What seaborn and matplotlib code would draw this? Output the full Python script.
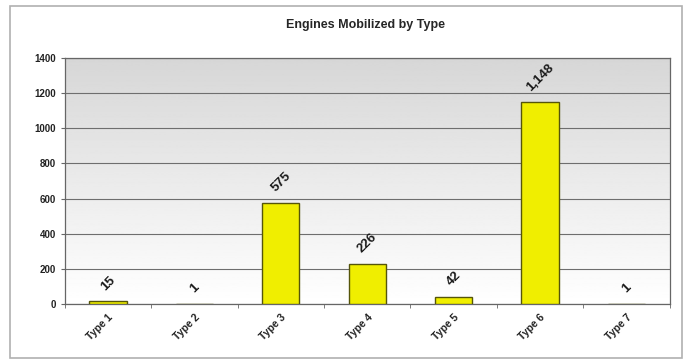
import numpy as np
import pandas as pd
import matplotlib
matplotlib.use("Agg")
import matplotlib.pyplot as plt
import seaborn as sns
from matplotlib.patches import Rectangle

types = ['Type 1', 'Type 2', 'Type 3', 'Type 4', 'Type 5', 'Type 6', 'Type 7']
engines = [15, 1, 575, 226, 42, 1148, 1]
value_labels = ['15', '1', '575', '226', '42', '1,148', '1']

df = pd.DataFrame({'type': types, 'engines': engines})

sns.set_style('white')
plt.rcParams['font.family'] = ['Liberation Sans', 'DejaVu Sans']

fig = plt.figure(figsize=(6.89, 3.62), dpi=100)
ax = fig.add_axes([0.094, 0.160, 0.878, 0.680])

# outer chart frame
fig.patches.append(Rectangle((0.014, 0.012), 0.976, 0.972, transform=fig.transFigure,
                             fill=False, edgecolor='#b0b0b0', linewidth=1.2))

# gray gradient plot background (dark top -> white bottom)
grad = np.linspace(0.84, 1.0, 256).reshape(-1, 1)
ax.imshow(grad, cmap='gray', vmin=0, vmax=1, aspect='auto',
          extent=[-0.5, 6.5, 0, 1400], zorder=0)

sns.barplot(data=df, x='type', y='engines', color='#f0ee00', width=0.43,
            edgecolor='#55550a', linewidth=1.0, saturation=1, ax=ax, zorder=3)

ax.set_xlim(-0.5, 6.5)
ax.set_ylim(0, 1400)
ax.set_yticks(range(0, 1401, 200))
ax.yaxis.grid(True, color='#6e6e6e', linewidth=0.8, zorder=1)
ax.set_axisbelow(True)
for s in ax.spines.values():
    s.set_color('#666666')
    s.set_linewidth(0.9)

# category ticks sit between bars, labels at bar centres
ax.set_xticks(np.arange(-0.5, 7, 1), minor=True)
ax.set_xlabel('')
ax.set_ylabel('')
ax.tick_params(axis='y', labelsize=7, length=3, color='#666666', left=True, labelcolor='#222222')
ax.tick_params(axis='x', which='major', labelsize=7.5, length=0, pad=6, labelcolor='#222222')
ax.tick_params(axis='x', which='minor', length=3, color='#666666', bottom=True)
for lab in ax.get_yticklabels():
    lab.set_fontweight('bold')
plt.setp(ax.get_xticklabels(), rotation=45, ha='right', rotation_mode='anchor', fontweight='bold')

for i, (v, txt) in enumerate(zip(engines, value_labels)):
    ax.text(i, v + 50, txt, rotation=45, ha='center', va='bottom',
            fontsize=9.5, fontweight='bold', color='#1a1a1a', zorder=4, clip_on=False)

fig.text(0.53, 0.93, 'Engines Mobilized by Type', ha='center', va='center',
         fontsize=9, fontweight='bold')

fig.savefig('out.png', dpi=100)
